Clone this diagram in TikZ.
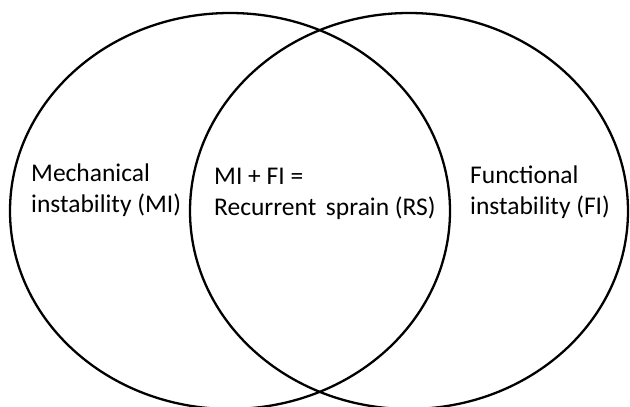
\documentclass[tikz,border=0pt]{standalone}
\usepackage{fontspec}
\setmainfont{Carlito}
\begin{document}
\begin{tikzpicture}[x=1pt,y=-1pt,
  venn/.style={draw=black,line width=2.3pt},
  lbl/.style={anchor=base west,inner sep=0pt,font=\fontsize{25.5}{30}\selectfont}]
\useasboundingbox (0,0) rectangle (630,407);
\draw[venn] (230,211) ellipse [x radius=220, y radius=198];
\draw[venn] (409,211) ellipse [x radius=219, y radius=198];
\node[lbl] (mi1) at (31,181) {Mechanical};
\node[lbl] (mi2) at (31,212) {instability (MI)};
\node[lbl] (rs1) at (214,184) {MI + FI =};
\node[lbl] (rs2) at (214,215) {Recurrent\hspace{0.38em}sprain (RS)};
\node[lbl] (fi1) at (470,183) {Functional};
\node[lbl] (fi2) at (470,214) {instability (FI)};
\end{tikzpicture}
\end{document}
